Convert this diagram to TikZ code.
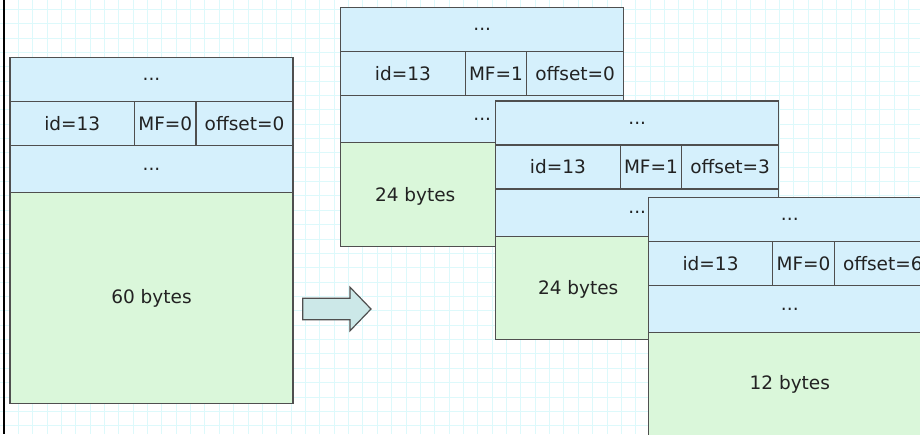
\documentclass[tikz,border=0pt]{standalone}
\usepackage{fontspec}
\setmainfont{DejaVu Sans}
\usetikzlibrary{calc}
\definecolor{gridcol}{HTML}{DDF9FB}
\definecolor{hdrfill}{HTML}{D5F0FC}
\definecolor{datafill}{HTML}{DAF7DA}
\definecolor{edgecol}{HTML}{4F4F4F}
\definecolor{arrowfill}{HTML}{CCE8E8}
\definecolor{txtcol}{HTML}{222222}

% One IP packet: header rows (options, id/MF/offset, options) above a data block.
% #1 name prefix, #2 x, #3 y, #4 MF flag, #5 offset, #6 height of data block
\newcommand\ippacket[6]{%
  \node[hdr, minimum width=283pt, minimum height=44pt] (#1top) at (#2,#3) {...};
  \node[hdr, minimum width=124.5pt, minimum height=44pt] (#1id) at (#1top.south west) {id=13};
  \node[hdr, minimum width=61.5pt, minimum height=44pt] (#1mf) at (#1id.north east) {MF=#4};
  \node[hdr, minimum width=97pt, minimum height=44pt] (#1off) at (#1mf.north east) {offset=#5};
  \node[hdr, minimum width=283pt, minimum height=47.3pt] (#1opt) at (#1id.south west) {...};
  \node[datablk, minimum width=283pt, minimum height=#6] (#1data) at (#1opt.south west) {};
}

\begin{document}
\begin{tikzpicture}[x=1pt, y=-1pt,
  font=\fontsize{18.5}{22}\selectfont, text=txtcol,
  cell/.style={draw=edgecol, line width=1.2pt, inner sep=0pt, outer sep=0pt, anchor=north west},
  hdr/.style={cell, fill=hdrfill},
  datablk/.style={cell, fill=datafill},
  lbl/.style={inner sep=0pt},
  gridline/.style={draw=gridcol, line width=1pt},
  bigarrow/.style={draw=edgecol, line width=1.2pt, fill=arrowfill, line join=miter}]

\useasboundingbox (0,0) rectangle (920,434);
\clip (0,0) rectangle (920,434);
\fill[white] (0,0) rectangle (920,434);

% background grid
\foreach \k in {0,...,64} \draw[gridline] ({3.94+14.36*\k},0) -- ++(0,434);
\foreach \k in {0,...,30} \draw[gridline] (0,{9.3+14.36*\k}) -- ++(920,0);

% left rule
\draw[black, line width=2.6pt] (4,0) -- (4,434);

% original datagram
\ippacket{orig}{10}{57.5}{0}{0}{210.5pt}
\node[lbl] (origlbl) at (origdata.center) {60 bytes};

% fragmentation arrow
\coordinate (arrowtail) at (302.7,309);
\draw[bigarrow] (arrowtail) ++(0,-10.8) -- ++(47.3,0) -- ++(0,-11) -- ++(21,21.8)
  -- ++(-21,21.8) -- ++(0,-11) -- ++(-47.3,0) -- cycle;

% fragments
\ippacket{fa}{340.7}{7.5}{1}{0}{103.3pt}
\node[lbl] (falbl) at ($(fadata.west)+(74.5,1.5)$) {24 bytes};

\ippacket{fb}{495.7}{101}{1}{3}{103pt}
\node[lbl] (fblbl) at ($(fbdata.west)+(82.5,1.5)$) {24 bytes};

\ippacket{fc}{648.3}{197.3}{0}{6}{103pt}
\node[lbl] (fclbl) at ($(fcdata.west)+(141.5,0)$) {12 bytes};
\end{tikzpicture}
\end{document}
